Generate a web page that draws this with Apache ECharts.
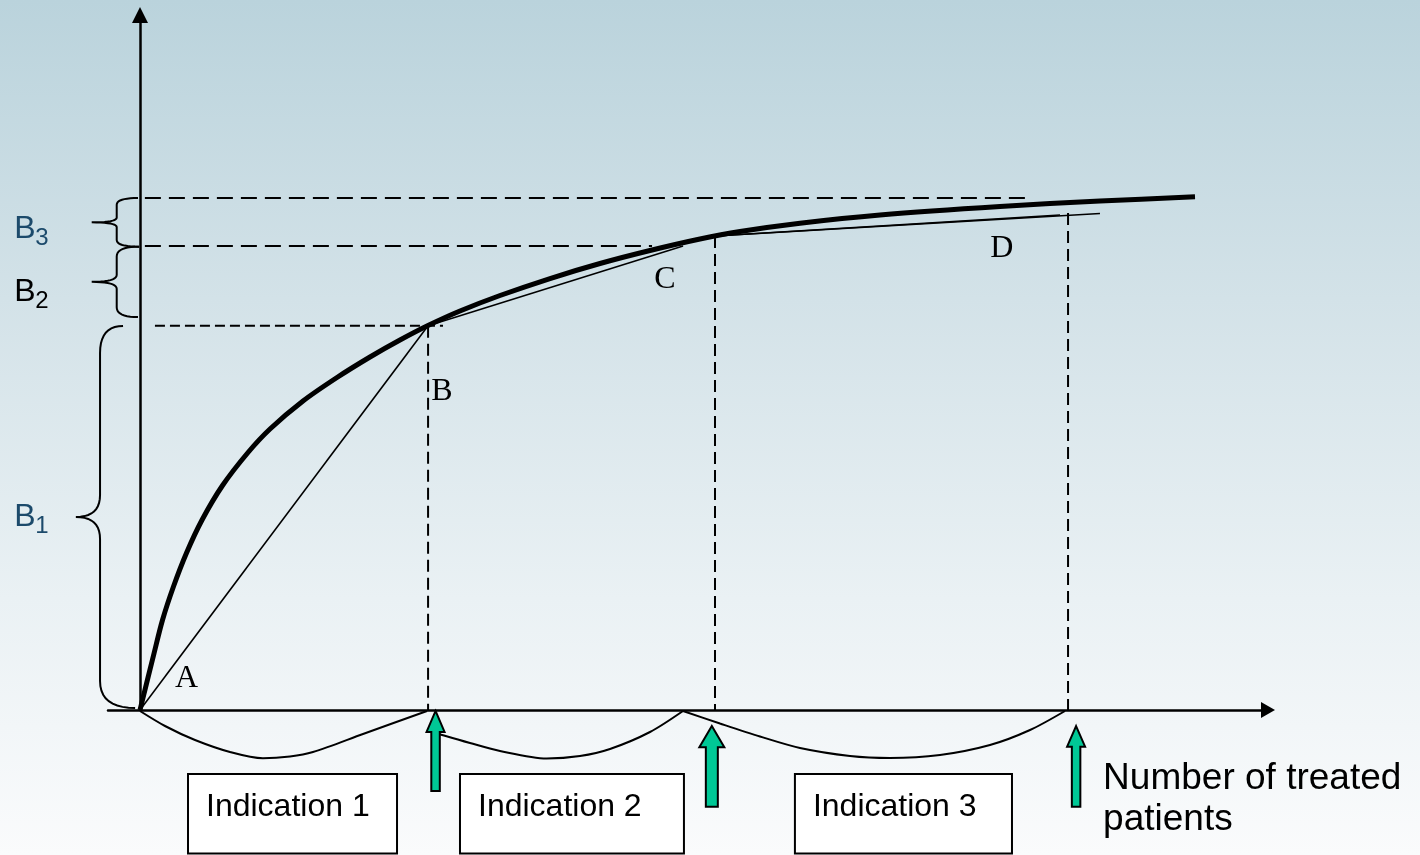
<!DOCTYPE html>
<html><head><meta charset="utf-8">
<script src="https://cdn.jsdelivr.net/npm/echarts@6/dist/echarts.min.js"></script>
<style>html,body{margin:0;padding:0;overflow:hidden}#c{width:1420px;height:855px}</style>
</head><body><div id="c"></div>
<script>
// ---- data (x: number of treated patients, y: benefit; arbitrary units) ----
const curvePoints = [[0,0],[0.487,8.071],[0.783,12.857],[1.165,17.643],[1.617,22.429],[2.157,27.143],[2.870,32.071],[3.757,36.786],[4.522,40.143],[5.670,44.143],[6.852,47.5],[8.0,50.429],[9.043,52.857],[10.017,54.929],[11.13,57.0],[12.522,59.214],[14.261,61.643],[16.0,63.786],[17.739,65.643],[19.478,67.286],[20.870,68.357],[22.957,69.543],[25.739,70.714],[29.913,71.929],[33.391,72.714],[36.696,73.314]];
const chordAB = [[0,0],[10.02,54.9]];
const chordBC = [[10.02,54.9],[18.89,66.29]];
const chordCD = [[20.0,67.71],[33.39,70.93]];
const chordCD2 = [[20.0,67.71],[32.0,70.71]];
const benefitLevels = [54.9, 66.29, 73.14];
const levelStartX = [0.52, 0.17, 0.17];
const levelEndX = [10.54, 17.81, 30.96];
const indicationLimits = [10.02, 20.0, 32.28];
const limitTops = [54.9, 67.71, 71.0];
const rangeBraces = [
  [[0,-0.143],[0.87,-2.286],[1.913,-4.286],[3.13,-6.0],[4.278,-6.9],[5.217,-6.643],[6.017,-6.0],[7.757,-3.429],[9.983,-0.143]],
  [[10.191,-3.143],[10.574,-3.643],[11.478,-4.714],[12.522,-5.857],[14.146,-6.929],[15.304,-6.571],[16.348,-5.571],[17.739,-3.143],[18.887,-0.143]],
  [[18.887,-0.143],[20.174,-1.929],[21.565,-3.786],[22.957,-5.429],[24.696,-6.571],[26.087,-6.857],[27.826,-6.429],[29.565,-5.0],[30.957,-2.857],[32.174,-0.143]]
];
const arrowX = [10.28, 19.89, 32.56];
const arrowTip = [-0.14, -2.29, -2.29];
const arrowHeadBase = [-3.14, -5.33, -5.24];
const arrowBottom = [-11.57, -13.81, -13.81];
const indications = ['Indication 1', 'Indication 2', 'Indication 3'];
const boxX0 = [1.67, 11.13, 22.78];
const boxX1 = [8.94, 18.92, 30.33];
const boxTop = -9.14, boxBottom = -20.5, boxTextY = -13.9;
const pointLabels = ['A', 'B', 'C', 'D'];
const pointLabelX = [1.62, 10.50, 18.26, 29.98];
const pointLabelY = [4.45, 45.45, 61.45, 65.98];
const benefitNames = ['1', '2', '3'];
const benefitBraceBottom = [0.29, 56.14, 66.19];
const benefitBraceTop = [54.86, 66.19, 73.14];
const benefitLabelY = [27.6, 59.74, 68.74];
const benefitLabelX = -4.37;
const axisTitle = ['Number of treated', 'patients'];
const axisTitleX = 33.50;
const axisTitleY = [-9.78, -15.63];

// ---- styles ----
const arrowHeadW = [18, 25, 18], arrowShaftW = [8.5, 12, 8.5];
const benefitColors = ['#1c4a6b', '#000000', '#1c4a6b'];
const braceGeom = [
  {end: -0.59, endB: -0.17, straight: -1.39, cusp: -2.23},
  {end: -0.03, endB: -0.07, straight: -0.81, cusp: -1.68},
  {end: -0.07, endB: -0.03, straight: -0.81, cusp: -1.68}
];
const SANS = '"Liberation Sans", Arial, sans-serif';
const SERIF = '"Liberation Serif", "Times New Roman", serif';

function lineSeries(data, width, dash, z, smooth) {
  return {type: 'line', data: data, symbol: 'none', clip: false, silent: true, z: z,
    smooth: smooth || false, animation: false,
    lineStyle: {color: '#000', width: width, type: dash || 'solid', cap: 'butt'}};
}

const series = [];
benefitLevels.forEach((v, i) => {
  series.push(lineSeries([[levelStartX[i], v], [levelEndX[i], v]], 2, i === 0 ? [10, 5] : [16, 8], 2));
});
indicationLimits.forEach((x, i) => {
  series.push(lineSeries([[x, limitTops[i]], [x, 0]], 2, [12, 6], 2));
});
[chordAB, chordBC, chordCD, chordCD2].forEach(d => series.push(lineSeries(d, 1.6, 'solid', 3)));
series.push(lineSeries(curvePoints, 5, 'solid', 4, 0.3));
rangeBraces.forEach(d => series.push(lineSeries(d, 2, 'solid', 3, 0.3)));

function qPts(p0, c, p1, n) {
  const out = [];
  for (let k = 0; k <= n; k++) {
    const t = k / n, a = (1 - t) * (1 - t), b = 2 * (1 - t) * t, d = t * t;
    out.push([a * p0[0] + b * c[0] + d * p1[0], a * p0[1] + b * c[1] + d * p1[1]]);
  }
  return out;
}

series.push({
  type: 'custom', silent: true, z: 5, animation: false,
  data: benefitBraceBottom.map((b, i) => [braceGeom[i].end, b, benefitBraceTop[i]]),
  renderItem: function (params, api) {
    const i = params.dataIndex, g = braceGeom[i];
    const top = api.coord([g.end, api.value(2)]);
    const bot = api.coord([g.endB, api.value(1)]);
    const xs = api.coord([g.straight, 0])[0];
    const xc = api.coord([g.cusp, 0])[0];
    const yT = top[1], yB = bot[1], yM = (yT + yB) / 2, h = yB - yT;
    const r = Math.min(27, h * 0.14), r2 = Math.min(22, h * 0.1);
    let pts = [];
    pts = pts.concat(qPts([top[0], yT], [xs, yT], [xs, yT + r], 10));
    pts = pts.concat(qPts([xs, yM - r2], [xs, yM], [xc, yM], 10));
    pts = pts.concat(qPts([xc, yM], [xs, yM], [xs, yM + r2], 10));
    pts = pts.concat(qPts([xs, yB - r], [xs, yB], [bot[0], yB], 10));
    return {type: 'polyline', shape: {points: pts}, style: {stroke: '#000', fill: null, lineWidth: 2}};
  }
});
series.push({
  type: 'custom', silent: true, z: 6, animation: false,
  data: benefitNames.map((n, i) => [benefitLabelX, benefitLabelY[i]]),
  renderItem: function (params, api) {
    const i = params.dataIndex;
    const p = api.coord([api.value(0), api.value(1)]);
    return {type: 'group', children: [
      {type: 'text', x: p[0], y: p[1], style: {text: 'B', font: '32px ' + SANS, fill: benefitColors[i], align: 'left', verticalAlign: 'middle'}},
      {type: 'text', x: p[0] + 21, y: p[1] + 10, style: {text: benefitNames[i], font: '24px ' + SANS, fill: benefitColors[i], align: 'left', verticalAlign: 'middle'}}
    ]};
  }
});
series.push({
  type: 'custom', silent: true, z: 6, animation: false,
  data: pointLabels.map((n, i) => [pointLabelX[i], pointLabelY[i]]),
  renderItem: function (params, api) {
    const p = api.coord([api.value(0), api.value(1)]);
    return {type: 'text', x: p[0], y: p[1], style: {text: pointLabels[params.dataIndex], font: '32px ' + SERIF, fill: '#000', align: 'center', verticalAlign: 'middle'}};
  }
});
series.push({
  type: 'custom', silent: true, z: 7, animation: false,
  data: arrowX.map((x, i) => [x, arrowTip[i], arrowHeadBase[i], arrowBottom[i]]),
  renderItem: function (params, api) {
    const i = params.dataIndex;
    const tip = api.coord([api.value(0), api.value(1)]);
    const base = api.coord([api.value(0), api.value(2)])[1];
    const bot = api.coord([api.value(0), api.value(3)])[1];
    const cx = tip[0], hw = arrowHeadW[i] / 2, sw = arrowShaftW[i] / 2;
    return {type: 'polygon', shape: {points: [[cx, tip[1]], [cx + hw, base], [cx + sw, base], [cx + sw, bot], [cx - sw, bot], [cx - sw, base], [cx - hw, base]]},
      style: {fill: '#00c896', stroke: '#000', lineWidth: 2, lineJoin: 'miter'}};
  }
});
series.push({
  type: 'custom', silent: true, z: 7, animation: false,
  data: boxX0.map((x, i) => [x, boxTop, boxX1[i], boxBottom]),
  renderItem: function (params, api) {
    const i = params.dataIndex;
    const p0 = api.coord([api.value(0), api.value(1)]);
    const p1 = api.coord([api.value(2), api.value(3)]);
    const ty = api.coord([api.value(0), boxTextY])[1];
    return {type: 'group', children: [
      {type: 'rect', shape: {x: p0[0], y: p0[1], width: p1[0] - p0[0], height: p1[1] - p0[1]}, style: {fill: '#ffffff', stroke: '#000', lineWidth: 2}},
      {type: 'text', x: p0[0] + 18, y: ty, style: {text: indications[i], font: '32px ' + SANS, fill: '#000', align: 'left', verticalAlign: 'middle'}}
    ]};
  }
});
series.push({
  type: 'custom', silent: true, z: 7, animation: false,
  data: axisTitle.map((t, i) => [axisTitleX, axisTitleY[i]]),
  renderItem: function (params, api) {
    const p = api.coord([api.value(0), api.value(1)]);
    return {type: 'text', x: p[0], y: p[1], style: {text: axisTitle[params.dataIndex], font: '37px ' + SANS, fill: '#000', align: 'left', verticalAlign: 'middle'}};
  }
});

const chart = echarts.init(document.getElementById('c'), null, {width: 1420, height: 855});
chart.setOption({
  animation: false,
  backgroundColor: {type: 'linear', x: 0, y: 0, x2: 0, y2: 1, colorStops: [
    {offset: 0, color: '#bad3dc'}, {offset: 0.35, color: '#d3e2e8'}, {offset: 0.7, color: '#eaf1f4'}, {offset: 1, color: '#fafbfc'}]},
  grid: {left: 108, right: 152, top: 15, bottom: 145},
  xAxis: {type: 'value', min: -1.113, max: 39.235,
    axisLine: {show: true, onZero: true, symbol: ['none', 'triangle'], symbolSize: [16, 14], lineStyle: {color: '#000', width: 2.5}},
    axisTick: {show: false}, axisLabel: {show: false}, splitLine: {show: false}},
  yAxis: {type: 'value', min: 0, max: 99.29,
    axisLine: {show: true, onZero: true, symbol: ['none', 'triangle'], symbolSize: [16, 16], lineStyle: {color: '#000', width: 2.5}},
    axisTick: {show: false}, axisLabel: {show: false}, splitLine: {show: false}},
  series: series
});
</script></body></html>
